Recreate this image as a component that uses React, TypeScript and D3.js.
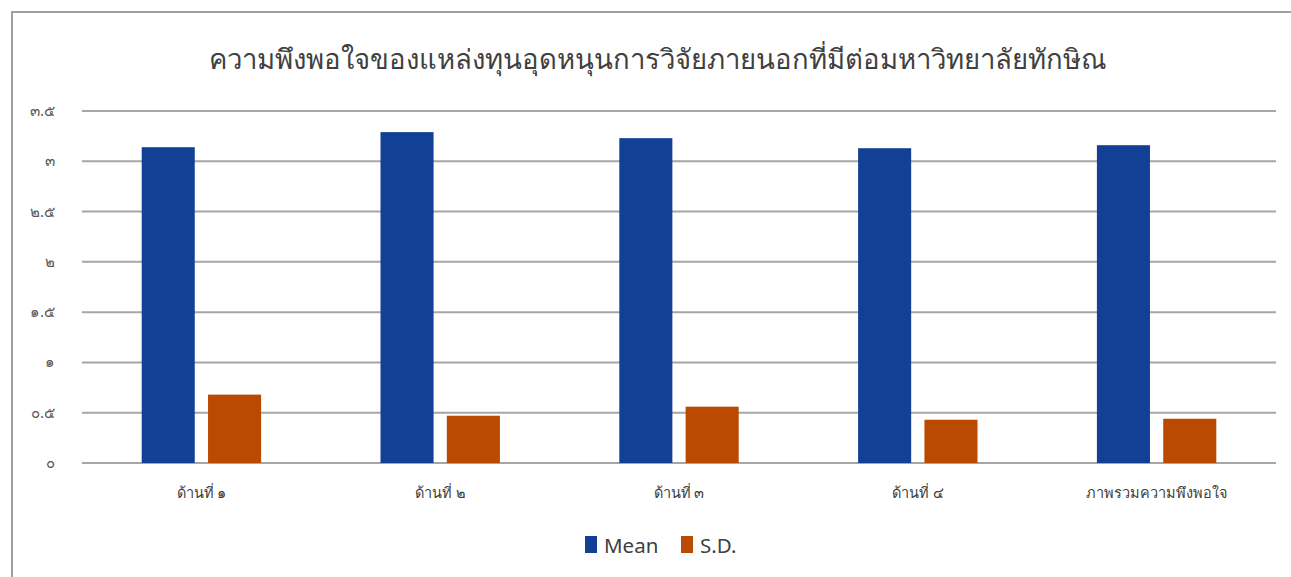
import React from "react";
import * as d3 from "d3";

const title = "ความพึงพอใจของแหล่งทุนอุดหนุนการวิจัยภายนอกที่มีต่อมหาวิทยาลัยทักษิณ";
const categories = ["ด้านที่ ๑", "ด้านที่ ๒", "ด้านที่ ๓", "ด้านที่ ๔", "ภาพรวมความพึงพอใจ"];
const seriesNames = ["Mean", "S.D."];
const meanValues = [3.14, 3.29, 3.23, 3.13, 3.16];
const sdValues = [0.68, 0.47, 0.56, 0.43, 0.44];
const yTicks = [0, 0.5, 1, 1.5, 2, 2.5, 3, 3.5];
const yTickLabels = ["๐", "๐.๕", "๑", "๑.๕", "๒", "๒.๕", "๓", "๓.๕"];
const colors = ["#114094", "#B94A00"];

const W = 1291;
const H = 577;
const FONT = "'Noto Sans', 'DejaVu Sans', sans-serif";

export default function App() {
  const plotLeft = 82;
  const plotRight = 1276;
  const y = d3.scaleLinear().domain([0, 3.5]).range([463, 111]);
  const x0 = d3
    .scaleBand<string>()
    .domain(categories)
    .range([plotLeft, plotRight])
    .paddingInner(0.5)
    .paddingOuter(0.25);
  const x1 = d3
    .scaleBand<string>()
    .domain(seriesNames)
    .range([0, x0.bandwidth()])
    .paddingInner(0.2);
  const data = [meanValues, sdValues];

  return (
    <svg
      width={W}
      height={H}
      style={{ position: "absolute", left: 0, top: 0, background: "#fff" }}
      fontFamily={FONT}
    >
      <rect x={0} y={0} width={W} height={H} fill="#fff" />
      <rect x={12} y={12} width={W + 20} height={H + 20} fill="#fff" stroke="#a0a0a0" strokeWidth={2} />
      <text x={658} y={69} textAnchor="middle" fontSize={27.5} fill="#404040">
        {title}
      </text>
      {yTicks.map((t, i) => (
        <g key={t}>
          <line x1={plotLeft} x2={plotRight} y1={y(t)} y2={y(t)} stroke="#a6a6a6" strokeWidth={2} />
          <text x={55} y={y(t) + 5} textAnchor="end" fontSize={15} fill="#595959">
            {yTickLabels[i]}
          </text>
        </g>
      ))}
      {seriesNames.map((s, si) =>
        categories.map((c, ci) => (
          <rect
            key={s + c}
            x={(x0(c) ?? 0) + (x1(s) ?? 0)}
            y={y(data[si][ci])}
            width={x1.bandwidth()}
            height={y(0) - y(data[si][ci])}
            fill={colors[si]}
          />
        ))
      )}
      {categories.map((c) => (
        <text
          key={c}
          x={(x0(c) ?? 0) + x0.bandwidth() / 2}
          y={498}
          textAnchor="middle"
          fontSize={14.5}
          fill="#404040"
        >
          {c}
        </text>
      ))}
      <g>
        <rect x={585} y={536} width={12} height={17} fill={colors[0]} />
        <text x={604} y={553} fontSize={20.5} fill="#404040">Mean</text>
        <rect x={681} y={536} width={12} height={17} fill={colors[1]} />
        <text x={700} y={553} fontSize={20.5} fill="#404040">S.D.</text>
      </g>
    </svg>
  );
}
